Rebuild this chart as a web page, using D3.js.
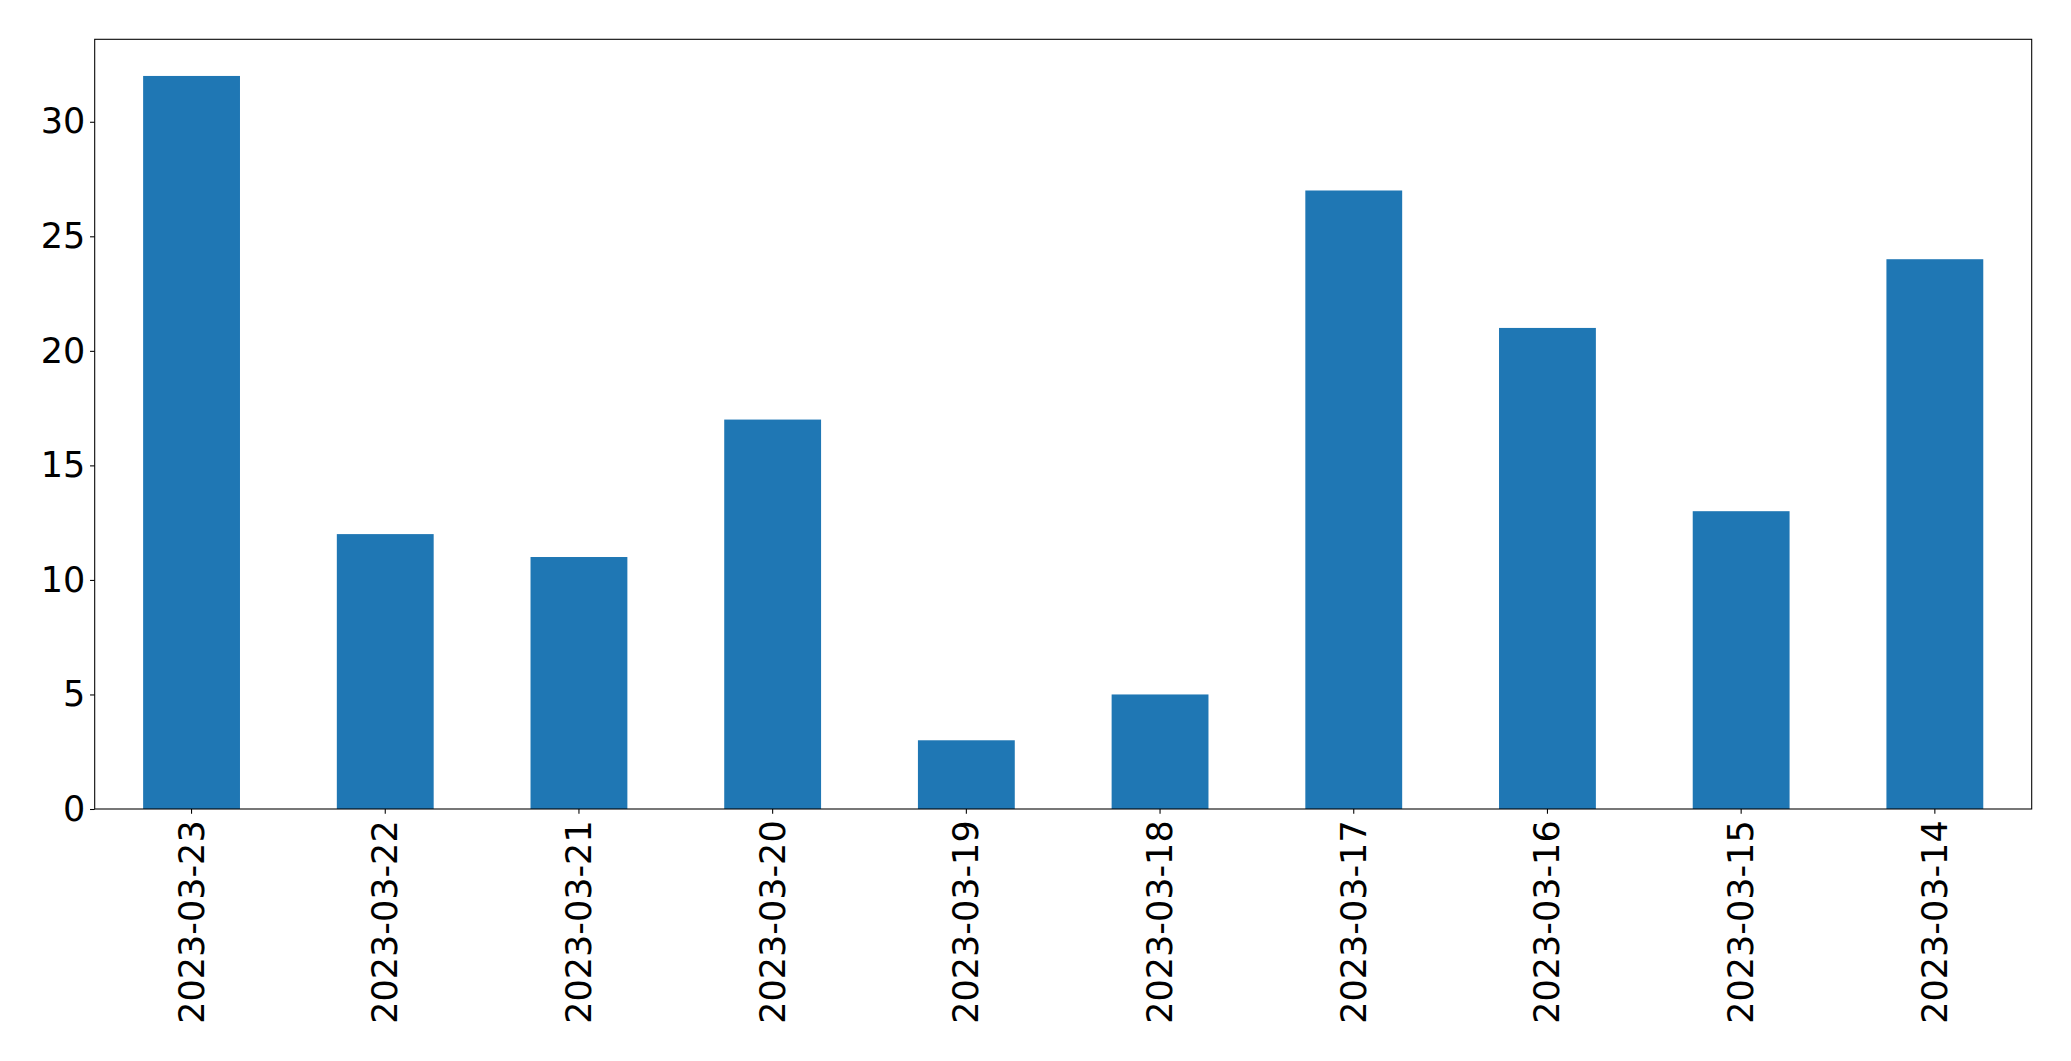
<!DOCTYPE html>
<html>
<head>
<meta charset="utf-8">
<script src="https://cdn.jsdelivr.net/npm/d3@7"></script>
<style>
  html, body { margin: 0; padding: 0; background: #fff; }
  svg { display: block; }
  text { font-family: "DejaVu Sans", sans-serif; fill: #000; }
</style>
</head>
<body>
<svg id="chart" width="2071" height="1061"></svg>
<script>
const categories = ["2023-03-23","2023-03-22","2023-03-21","2023-03-20","2023-03-19","2023-03-18","2023-03-17","2023-03-16","2023-03-15","2023-03-14"];
const values = [32, 12, 11, 17, 3, 5, 27, 21, 13, 24];
const yTicks = [0, 5, 10, 15, 20, 25, 30];

const W = 2071, H = 1061;
const margin = { left: 94.7, right: W - 2031.7, top: 39.3, bottom: H - 809 };
const iw = W - margin.left - margin.right;
const ih = H - margin.top - margin.bottom;

const svg = d3.select("#chart");
const g = svg.append("g").attr("transform", `translate(${margin.left},${margin.top})`);

const x = d3.scaleBand().domain(categories).range([0, iw]).paddingInner(0.5).paddingOuter(0.25);
const y = d3.scaleLinear().domain([0, d3.max(values) * 1.05]).range([ih, 0]);

g.selectAll("rect.bar").data(values).join("rect")
  .attr("class", "bar")
  .attr("x", (d, i) => x(categories[i]))
  .attr("y", d => y(d))
  .attr("width", x.bandwidth())
  .attr("height", d => ih - y(d))
  .attr("fill", "#1f77b4");

const fs = 35;
const tickLen = 4.67, pad = 4.67;

// Y axis
const yAxis = g.append("g").call(d3.axisLeft(y).tickValues(yTicks).tickSize(tickLen).tickPadding(pad).tickFormat(d3.format("d")));
yAxis.select(".domain").remove();
yAxis.selectAll("line").attr("stroke", "#000").attr("stroke-width", 1.07);
yAxis.selectAll("text").attr("font-size", fs).attr("font-family", "DejaVu Sans").attr("fill", "#000");

// X axis
const xAxis = g.append("g").attr("transform", `translate(0,${ih})`)
  .call(d3.axisBottom(x).tickSize(tickLen).tickPadding(pad));
xAxis.select(".domain").remove();
xAxis.selectAll("line").attr("stroke", "#000").attr("stroke-width", 1.07);
xAxis.selectAll("text")
  .attr("font-size", fs).attr("font-family", "DejaVu Sans").attr("fill", "#000")
  .attr("y", 0).attr("dy", null)
  .attr("text-anchor", "end")
  .attr("dominant-baseline", "central")
  .attr("transform", `translate(0,${tickLen + pad + 2}) rotate(-90)`);

// Frame
g.append("rect").attr("x", 0).attr("y", 0).attr("width", iw).attr("height", ih)
  .attr("fill", "none").attr("stroke", "#000").attr("stroke-width", 1.07);
</script>
</body>
</html>
